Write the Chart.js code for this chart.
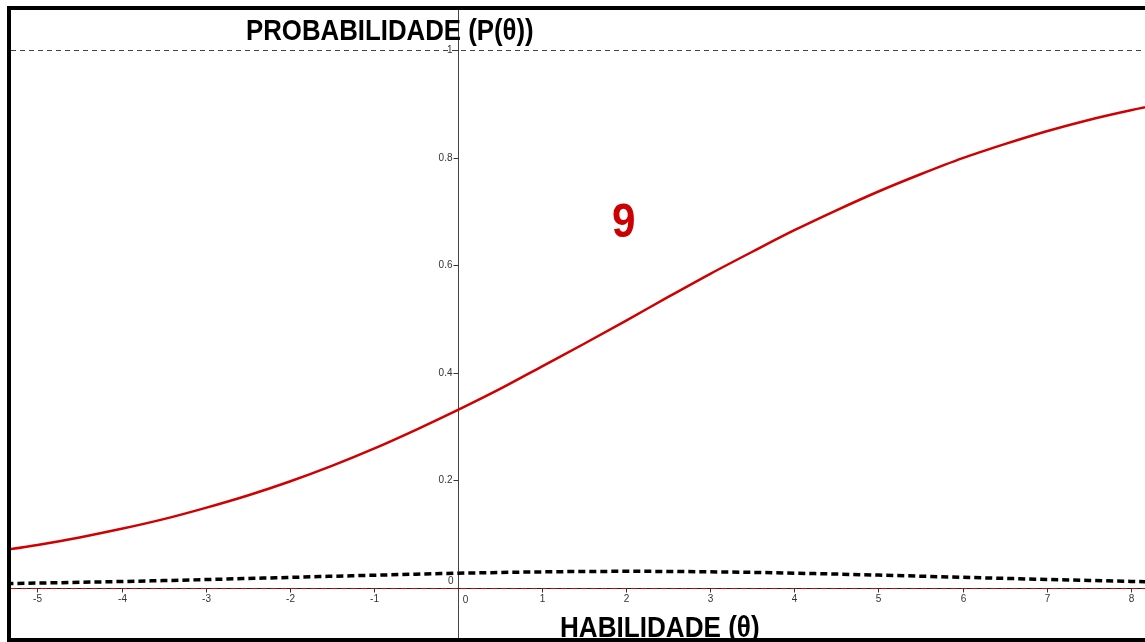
<!DOCTYPE html>
<html>
<head>
<meta charset="utf-8">
<style>
  html, body { margin: 0; padding: 0; background: #ffffff; }
  #wrap { width: 1145px; height: 642px; position: relative; }
  canvas { display: block; }
</style>
<script src="https://cdn.jsdelivr.net/npm/chart.js@4/dist/chart.umd.min.js"></script>
</head>
<body>
<div id="wrap"><canvas id="icc" width="1145" height="642"></canvas></div>
<script>
// Ability values (θ) at which both curves are sampled
const theta = [-5.5, -5, -4.5, -4, -3.5, -3, -2.5, -2, -1.5, -1, -0.5, 0, 0.5, 1, 1.5,
               2, 2.5, 3, 3.5, 4, 4.5, 5, 5.5, 6, 6.5, 7, 7.5, 8, 8.5];

// Item characteristic curve: probability of a correct answer P(θ)
const probability = [0.068, 0.080, 0.094, 0.110, 0.128, 0.149, 0.172, 0.198, 0.227, 0.259,
                     0.294, 0.331, 0.370, 0.412, 0.454, 0.497, 0.541, 0.584, 0.625, 0.665,
                     0.702, 0.737, 0.769, 0.799, 0.825, 0.849, 0.870, 0.888, 0.904];

// Item information curve (dashed black)
const information = [0.0079, 0.0092, 0.0106, 0.0121, 0.0138, 0.0157, 0.0177, 0.0197, 0.0218, 0.0238,
                     0.0257, 0.0275, 0.0289, 0.0300, 0.0307, 0.0310, 0.0308, 0.0301, 0.0291, 0.0276,
                     0.0259, 0.0240, 0.0220, 0.0199, 0.0179, 0.0159, 0.0141, 0.0123, 0.0107];

// Axis ticks
const xTicks = [-5, -4, -3, -2, -1, 0, 1, 2, 3, 4, 5, 6, 7, 8];
const yTicks = [0, 0.2, 0.4, 0.6, 0.8, 1];
const yTickLabels = ['0', '0.2', '0.4', '0.6', '0.8', '1'];

const itemLabel = '9';
const yTitle = 'PROBABILIDADE (P(θ))';
const xTitle = 'HABILIDADE (θ)';

const boldFace = '"Liberation Sans", Arial, "DejaVu Sans", sans-serif';
const plain = '"Liberation Sans", Arial, "DejaVu Sans", sans-serif';

const toPoints = (ys) => theta.map((t, i) => ({ x: t, y: ys[i] }));

// Bold text squeezed horizontally to a condensed look
function condensedText(ctx, text, cx, baseline, squeeze) {
  ctx.save();
  ctx.translate(cx, baseline);
  ctx.scale(squeeze, 1);
  ctx.fillText(text, 0, 0);
  ctx.restore();
}

// Frame, asymptote, centred axes and tick marks
const axesPlugin = {
  id: 'centredAxes',
  beforeDatasetsDraw(chart) {
    const { ctx, chartArea: a, scales: { x, y } } = chart;
    const x0 = Math.round(x.getPixelForValue(0)) + 0.5;
    const y0 = Math.round(y.getPixelForValue(0)) + 0.5;
    const y1 = Math.round(y.getPixelForValue(1)) + 0.5;
    ctx.save();

    // upper asymptote P = 1
    ctx.strokeStyle = '#444';
    ctx.lineWidth = 1;
    ctx.setLineDash([5, 4]);
    ctx.beginPath();
    ctx.moveTo(a.left, y1);
    ctx.lineTo(a.right, y1);
    ctx.stroke();

    // horizontal axis: black line with red dashes over it
    ctx.setLineDash([]);
    ctx.strokeStyle = '#222';
    ctx.beginPath();
    ctx.moveTo(a.left, y0);
    ctx.lineTo(a.right, y0);
    ctx.stroke();
    ctx.strokeStyle = '#e00000';
    ctx.setLineDash([6, 4]);
    ctx.beginPath();
    ctx.moveTo(a.left, y0);
    ctx.lineTo(a.right, y0);
    ctx.stroke();

    // vertical axis
    ctx.setLineDash([]);
    ctx.strokeStyle = '#444';
    ctx.beginPath();
    ctx.moveTo(x0, a.top);
    ctx.lineTo(x0, a.bottom);
    ctx.stroke();

    // tick marks and labels
    ctx.fillStyle = '#333';
    ctx.font = '10px ' + plain;
    ctx.strokeStyle = '#333';
    ctx.textAlign = 'center';
    ctx.textBaseline = 'top';
    xTicks.forEach((v) => {
      const px = Math.round(x.getPixelForValue(v)) + 0.5;
      if (v !== 0) {
        ctx.beginPath();
        ctx.moveTo(px, y0 - 0.5);
        ctx.lineTo(px, y0 + 4);
        ctx.stroke();
        ctx.fillText(String(v), px, y0 + 6);
      } else {
        ctx.fillText('0', px + 7, y0 + 7);
      }
    });
    ctx.textAlign = 'right';
    ctx.textBaseline = 'middle';
    yTicks.forEach((v, i) => {
      const py = Math.round(y.getPixelForValue(v)) + 0.5;
      if (v !== 0) {
        ctx.beginPath();
        ctx.moveTo(x0 - 5, py);
        ctx.lineTo(x0, py);
        ctx.stroke();
        ctx.fillText(yTickLabels[i], x0 - 6, py);
      } else {
        ctx.fillText(yTickLabels[i], x0 - 5, py - 7);
      }
    });
    ctx.restore();
  },
  afterDraw(chart) {
    const { ctx, scales: { x, y } } = chart;
    ctx.save();
    // axis titles
    ctx.fillStyle = '#000';
    ctx.textAlign = 'center';
    ctx.textBaseline = 'alphabetic';
    ctx.font = 'bold 30px ' + boldFace;
    condensedText(ctx, yTitle, x.getPixelForValue(-0.81), 40, 0.86);
    condensedText(ctx, xTitle, x.getPixelForValue(2.40), 637, 0.87);

    // item number next to the curve
    ctx.fillStyle = '#cc0000';
    ctx.font = 'bold 49px ' + boldFace;
    condensedText(ctx, itemLabel, x.getPixelForValue(1.97), y.getPixelForValue(0.653), 0.86);

    // frame
    ctx.fillStyle = '#000';
    ctx.fillRect(7, 6, 4, 642 - 6);
    ctx.fillRect(7, 6, 1145 - 7, 4);
    ctx.fillRect(7, 638, 1145 - 7, 4);
    ctx.restore();
  }
};

new Chart(document.getElementById('icc'), {
  type: 'scatter',
  data: {
    datasets: [
      {
        data: toPoints(information),
        showLine: true,
        borderColor: '#000000',
        borderWidth: 3.5,
        borderDash: [7, 4],
        pointRadius: 0,
        tension: 0.4,
        cubicInterpolationMode: 'monotone'
      },
      {
        data: toPoints(probability),
        showLine: true,
        borderColor: '#d00000',
        borderWidth: 2.5,
        pointRadius: 0,
        tension: 0.4,
        cubicInterpolationMode: 'monotone'
      }
    ]
  },
  options: {
    responsive: false,
    animation: false,
    layout: { padding: { left: 11, top: 10, right: 0, bottom: 4 } },
    plugins: { legend: { display: false }, tooltip: { enabled: false }, title: { display: false } },
    scales: {
      x: { type: 'linear', display: false, min: -5.315, max: 8.169 },
      y: { type: 'linear', display: false, min: -0.0929, max: 1.0743 }
    }
  },
  plugins: [axesPlugin]
});
</script>
</body>
</html>
